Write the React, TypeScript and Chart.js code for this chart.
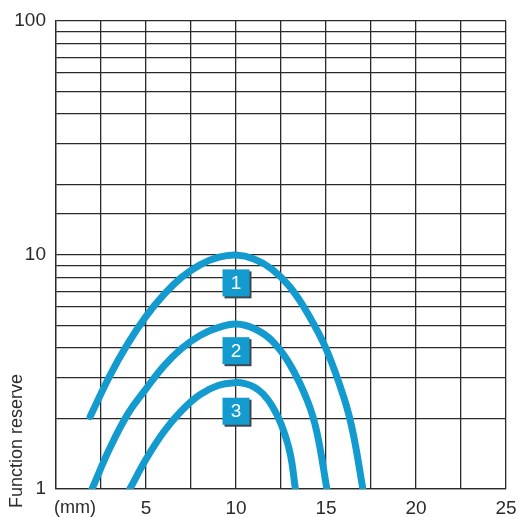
import React, { useEffect, useRef } from "react";
import { Chart, registerables } from "chart.js";

Chart.register(...registerables);

const curve1X = [1.9, 3, 4, 5, 6, 7, 8, 9, 10, 11, 12, 13, 14, 15, 16, 16.5, 17.05];
const curve1Y = [2.04, 3.06, 4.19, 5.47, 6.79, 8.05, 9.08, 9.76, 10, 9.62, 8.7, 7.3, 5.6, 3.98, 2.45, 1.74, 1.0];
const curve2X = [2.0, 3, 4, 5, 6, 7, 8, 9, 10, 11, 12, 13, 14, 14.5, 15.05];
const curve2Y = [1.0, 1.5, 2.1, 2.68, 3.36, 4.0, 4.53, 4.89, 5.07, 4.85, 4.3, 3.4, 2.35, 1.74, 1.0];
const curve3X = [4.1, 5, 6, 7, 8, 9, 10, 10.5, 11, 11.5, 12, 12.5, 13, 13.3];
const curve3Y = [1.0, 1.34, 1.76, 2.17, 2.53, 2.77, 2.85, 2.82, 2.73, 2.55, 2.27, 1.9, 1.43, 1.0];

const labelX = [10, 10, 10];
const labelY = [7.6, 3.9, 2.15];
const labelText = ["1", "2", "3"];

const xTickLabels = [5, 10, 15, 20, 25];
const yTickLabels = [1, 10, 100];
const xUnit = "(mm)";
const yTitle = "Function reserve";

const BLUE = "#139bcf";
const FONT = "'Liberation Sans', Arial, sans-serif";
const TEXT = "#2b2b2b";

const toPts = (xs: number[], ys: number[]) => xs.map((x, i) => ({ x, y: ys[i] }));

const overlay = {
  id: "overlay",
  afterDatasetsDraw(chart: any) {
    const { ctx, scales, chartArea } = chart;
    const xs = scales.x;
    const ys = scales.y;
    ctx.save();
    labelText.forEach((t, i) => {
      const cx = xs.getPixelForValue(labelX[i]);
      const cy = ys.getPixelForValue(labelY[i]);
      const s = 27;
      ctx.fillStyle = "#3a4a52";
      ctx.fillRect(cx - s / 2 + 2, cy - s / 2 + 2, s, s);
      ctx.fillStyle = BLUE;
      ctx.fillRect(cx - s / 2, cy - s / 2, s, s);
      ctx.fillStyle = "#ffffff";
      ctx.font = `19px ${FONT}`;
      ctx.textAlign = "center";
      ctx.textBaseline = "middle";
      ctx.fillText(t, cx, cy + 1);
    });
    ctx.fillStyle = TEXT;
    ctx.font = `18px ${FONT}`;
    ctx.textAlign = "left";
    ctx.textBaseline = "middle";
    ctx.fillText(xUnit, xs.getPixelForValue(0) - 2, chartArea.bottom + 19);
    ctx.translate(chartArea.left - 39, chartArea.bottom + 19);
    ctx.rotate(-Math.PI / 2);
    ctx.font = `18px ${FONT}`;
    ctx.textAlign = "left";
    ctx.textBaseline = "middle";
    ctx.fillText(yTitle, 0, 0);
    ctx.restore();
  },
};

export default function App() {
  const ref = useRef<HTMLCanvasElement | null>(null);
  useEffect(() => {
    if (!ref.current) return;
    const ds = (xs: number[], ys: number[]) => ({
      data: toPts(xs, ys),
      borderColor: BLUE,
      borderWidth: 7,
      borderCapStyle: "round" as const,
      borderJoinStyle: "round" as const,
      pointRadius: 0,
      tension: 0.4,
      fill: false,
      clip: { left: 5, top: 5, right: 5, bottom: 0 },
    });
    const chart = new Chart(ref.current, {
      type: "line",
      data: {
        datasets: [ds(curve1X, curve1Y), ds(curve2X, curve2Y), ds(curve3X, curve3Y)],
      },
      plugins: [overlay],
      options: {
        animation: false,
        responsive: true,
        maintainAspectRatio: false,
        layout: { padding: { top: 21, right: 14, left: 0, bottom: 0 } },
        plugins: { legend: { display: false }, tooltip: { enabled: false } },
        scales: {
          x: {
            type: "linear",
            min: 0,
            max: 25,
            afterFit: (s: any) => {
              s.height = 28;
              s.paddingLeft = 0;
              s.paddingRight = 0;
            },
            ticks: {
              stepSize: 2.5,
              autoSkip: false,
              maxRotation: 0,
              padding: 8,
              color: TEXT,
              font: { size: 19, family: FONT },
              callback: (v: any) => (xTickLabels.includes(Number(v)) ? String(v) : ""),
            },
            grid: { color: "#2a2a2a", lineWidth: 1.3, drawTicks: false },
            border: { color: "#2a2a2a", width: 1.3 },
          },
          y: {
            type: "logarithmic",
            min: 1,
            max: 100,
            afterFit: (s: any) => {
              s.width = 56;
              s.paddingTop = 0;
              s.paddingBottom = 0;
            },
            ticks: {
              autoSkip: false,
              padding: 10,
              color: TEXT,
              font: { size: 19, family: FONT },
              callback: (v: any) => (yTickLabels.includes(Number(v)) ? String(v) : ""),
            },
            grid: { color: "#2a2a2a", lineWidth: 1.3, drawTicks: false },
            border: { color: "#2a2a2a", width: 1.3 },
          },
        },
      },
    });
    return () => chart.destroy();
  }, []);
  return (
    <div style={{ position: "absolute", left: 0, top: 0, width: 520, height: 517, background: "#fff" }}>
      <canvas ref={ref} />
    </div>
  );
}
